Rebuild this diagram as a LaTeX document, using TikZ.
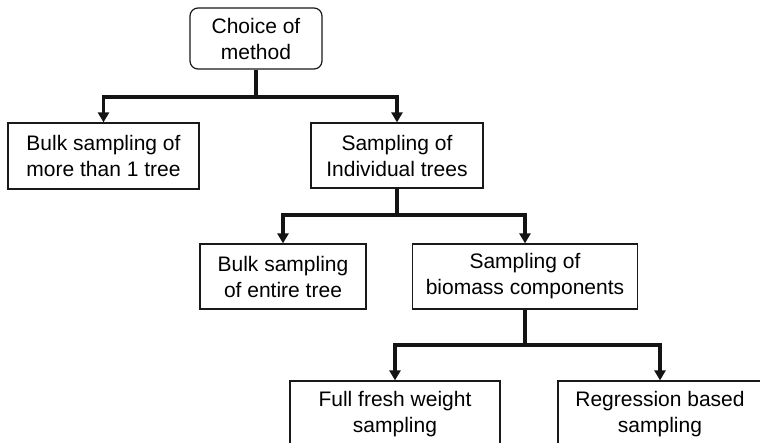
\documentclass[tikz,border=0pt]{standalone}
\usepackage{fontspec}
\setmainfont{Liberation Sans}
\usetikzlibrary{arrows.meta}
\begin{document}
\begin{tikzpicture}[x=1pt,y=-1pt,
  box/.style={draw=black!90,line width=1.2pt,align=center,inner sep=0pt,
    font=\fontsize{21}{26}\selectfont},
  rbox/.style={box,rounded corners=8pt},
  conn/.style={draw=black!92,line width=3.6pt},
  arr/.style={conn,-{Triangle[length=10pt,width=11pt]}}]
\useasboundingbox (0,0) rectangle (760,442);
\clip (0,0) rectangle (760,442);
% boxes
\node[rbox,minimum width=132pt,minimum height=61pt] (choice) at (256,38.5) {Choice of\\method};
\node[box,minimum width=191pt,minimum height=66pt] (bulkmany) at (103.5,156) {Bulk sampling of\\more than 1 tree};
\node[box,minimum width=172pt,minimum height=65pt] (indiv) at (397,155.5) {Sampling of\\Individual trees};
\node[box,minimum width=166pt,minimum height=65pt] (bulkone) at (283,276.5) {Bulk sampling\\of entire tree};
\node[box,minimum width=225pt,minimum height=65pt] (comp) at (525,276.5) {Sampling of\\biomass components};
\node[box,minimum width=210pt,minimum height=66pt] (fresh) at (395,414) {Full fresh weight\\sampling};
\node[box,minimum width=204pt,minimum height=66pt] (regr) at (660,414) {Regression based\\sampling};
% branch points
\coordinate (j1) at (256,97);
\coordinate (j2) at (397,215);
\coordinate (j3) at (525,345);
% connectors
\draw[conn] (choice) -- (j1);
\draw[arr] (j1) -| (bulkmany);
\draw[arr] (j1) -| (indiv);
\draw[conn] (indiv) -- (j2);
\draw[arr] (j2) -| (bulkone);
\draw[arr] (j2) -| (comp);
\draw[conn] (comp) -- (j3);
\draw[arr] (j3) -| (fresh);
\draw[arr] (j3) -| (regr);
\end{tikzpicture}
\end{document}
